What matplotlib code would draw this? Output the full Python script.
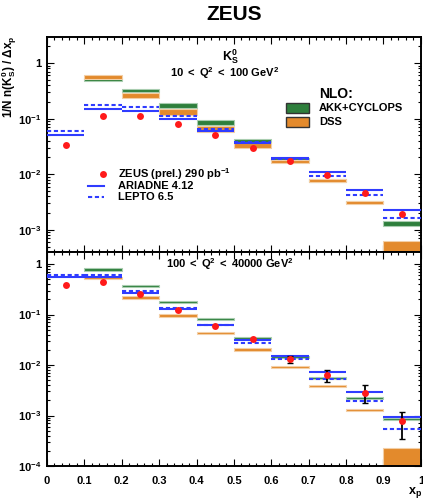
import numpy as np
import matplotlib
matplotlib.use("Agg")
import matplotlib.pyplot as plt
from matplotlib.ticker import LogLocator, FixedLocator, MultipleLocator, FuncFormatter, NullFormatter

plt.rcParams['font.family'] = ['Liberation Sans', 'DejaVu Sans']
plt.rcParams['font.weight'] = 'bold'
plt.rcParams['mathtext.fontset'] = 'custom'
plt.rcParams['mathtext.rm'] = 'Liberation Sans:bold'
plt.rcParams['mathtext.it'] = 'Liberation Sans:bold'
plt.rcParams['mathtext.bf'] = 'Liberation Sans:bold'
plt.rcParams['mathtext.sf'] = 'Liberation Sans:bold'
plt.rcParams['mathtext.default'] = 'rm'

nan = np.nan
bin_lo = np.array([0.0, 0.1, 0.2, 0.3, 0.4, 0.5, 0.6, 0.7, 0.8, 0.9])
bin_hi = bin_lo + 0.1
x_center = bin_lo + 0.05

# ---- top panel: 10 < Q2 < 100 GeV2 ----
data_top = [0.033, 0.11, 0.111, 0.080, 0.050, 0.030, 0.0171, 0.0095, 0.0045, 0.0019]
ariadne_top = [0.051, 0.152, 0.14, 0.098, 0.061, 0.036, 0.0197, 0.0109, 0.0053, 0.00224]
lepto_top = [0.059, 0.175, 0.162, 0.11, 0.066, 0.038, 0.019, 0.0093, 0.0042, 0.00166]
akk_top = [nan, 0.51, 0.32, 0.175, 0.0865, 0.040, 0.0184, 0.0078, 0.0032, 0.00131]
akk_top_err = [nan, 0.06, 0.07, 0.10, 0.11, 0.09, 0.07, 0.06, 0.05, 0.12]
dss_top = [nan, 0.57, 0.265, 0.133, 0.065, 0.033, 0.0171, 0.0076, 0.0031, 0.0005]
dss_top_err = [nan, 0.09, 0.10, 0.14, 0.13, 0.10, 0.07, 0.06, 0.05, 0.25]

# ---- bottom panel: 100 < Q2 < 40000 GeV2 ----
data_bot = [0.384, 0.447, 0.25, 0.121, 0.060, 0.0327, 0.0133, 0.0064, 0.0028, 0.00077]
data_bot_lo = [nan, nan, nan, nan, nan, nan, 0.0108, 0.0047, 0.0018, 0.00034]
data_bot_hi = [nan, nan, nan, nan, nan, nan, 0.0153, 0.0080, 0.0040, 0.00119]
ariadne_bot = [0.545, 0.553, 0.27, 0.129, 0.062, 0.0313, 0.0151, 0.0073, 0.0029, 0.00095]
lepto_bot = [0.615, 0.615, 0.29, 0.134, 0.061, 0.0277, 0.0133, 0.0053, 0.00196, 0.00055]
akk_bot = [nan, 0.78, 0.367, 0.177, 0.0815, 0.0343, 0.0144, 0.0056, 0.0022, 0.00085]
akk_bot_err = [nan, 0.05, 0.05, 0.05, 0.05, 0.06, 0.05, 0.05, 0.05, 0.06]
dss_bot = [nan, 0.53, 0.219, 0.095, 0.0436, 0.0204, 0.0093, 0.00384, 0.00127, 1.4e-4]
dss_bot_err = [nan, 0.05, 0.06, 0.06, 0.06, 0.05, 0.05, 0.05, 0.05, 0.6]

x_ticks = [0, 0.1, 0.2, 0.3, 0.4, 0.5, 0.6, 0.7, 0.8, 0.9, 1]
x_ticklabels = ['0', '0.1', '0.2', '0.3', '0.4', '0.5', '0.6', '0.7', '0.8', '0.9', '1']

GREEN = '#2e7f3c'
GREEN_E = '#a9cdb0'
ORANGE = '#e38a2c'
ORANGE_E = '#f3cfa6'
BLUE = '#2f3cff'
RED = '#ff1a1a'

fig = plt.figure(figsize=(4.23, 5.04), dpi=100)
ax_top = fig.add_axes([0.111, 0.5, 0.884, 0.4266])
ax_bot = fig.add_axes([0.111, 0.0754, 0.884, 0.4246])


def band(ax, vals, errs, color, ecolor):
    v = np.array(vals)
    e = np.array(errs)
    lo = v * (1 - e)
    hi = v * (1 + e)
    ax.bar(bin_lo, hi - lo, width=0.1, bottom=lo, align='edge', color=color,
           edgecolor=ecolor, linewidth=0.8, zorder=2)


def fmt(v, pos):
    if v <= 0:
        return ''
    e = int(round(np.log10(v)))
    if e == 0:
        return '1'
    return r'$10^{%d}$' % e


def style(ax, ymin, ymax):
    ax.set_yscale('log')
    ax.set_xlim(0, 1)
    ax.set_ylim(ymin, ymax)
    ax.xaxis.set_major_locator(FixedLocator(x_ticks))
    ax.xaxis.set_minor_locator(MultipleLocator(0.02))
    ax.yaxis.set_major_locator(LogLocator(base=10, numticks=20))
    ax.yaxis.set_minor_locator(LogLocator(base=10, subs=np.arange(2, 10), numticks=20))
    ax.yaxis.set_major_formatter(FuncFormatter(fmt))
    ax.yaxis.set_minor_formatter(NullFormatter())
    ax.tick_params(which='both', direction='in', top=True, right=True, width=0.8)
    ax.tick_params(which='major', length=5, labelsize=8, pad=4)
    ax.tick_params(which='minor', length=2.5)
    for s in ax.spines.values():
        s.set_linewidth(1.4)


def draw(ax, data, ariadne, lepto, akk, akk_err, dss, dss_err, lo=None, hi=None):
    band(ax, akk, akk_err, GREEN, GREEN_E)
    band(ax, dss, dss_err, ORANGE, ORANGE_E)
    ax.hlines(ariadne, bin_lo, bin_hi, colors=BLUE, linewidth=1.5, zorder=3)
    ax.hlines(lepto, bin_lo, bin_hi, colors=BLUE, linewidth=1.5, linestyles=(0, (2, 1.3)), zorder=3)
    if lo is not None:
        lo = np.array(lo)
        hi = np.array(hi)
        d = np.array(data)
        m = ~np.isnan(lo)
        ax.errorbar(x_center[m], d[m], yerr=[d[m] - lo[m], hi[m] - d[m]], fmt='none',
                    ecolor='black', elinewidth=1.3, capsize=2.2, capthick=1.0, zorder=4)
    ax.plot(x_center, data, 'o', color=RED, markersize=5, markeredgewidth=0, zorder=5)


draw(ax_top, data_top, ariadne_top, lepto_top, akk_top, akk_top_err, dss_top, dss_top_err)
draw(ax_bot, data_bot, ariadne_bot, lepto_bot, akk_bot, akk_bot_err, dss_bot, dss_bot_err,
     data_bot_lo, data_bot_hi)

style(ax_top, 10 ** -3.40, 10 ** 0.47)
style(ax_bot, 1e-4, 10 ** 0.24)
ax_top.set_xticklabels([])
ax_bot.set_xticklabels(x_ticklabels)
ax_bot.tick_params(axis='x', labelsize=8, pad=7)

# texts
fig.text(234 / 423, 1 - 15 / 504, 'ZEUS', ha='center', va='center', fontsize=15, fontweight='bold')
fig.text(230 / 423, 1 - 57 / 504, r'K$^0_S$', ha='center', va='center', fontsize=9)
fig.text(225 / 423, 1 - 73 / 504, r'10 $<$ Q$^2$ $<$ 100 GeV$^2$', ha='center', va='center', fontsize=8)
fig.text(230 / 423, 1 - 264 / 504, r'100 $<$ Q$^2$ $<$ 40000 GeV$^2$', ha='center', va='center', fontsize=8)

fig.text(9 / 423, 1 - 77 / 504, r'1/N n(K$^0_S$) / $\Delta$x$_p$', ha='center', va='center',
         rotation=90, fontsize=8.5)
fig.text(415 / 423, 1 - 492 / 504, r'x$_p$', ha='center', va='center', fontsize=9)

# NLO legend
fig.text(319 / 423, 1 - 94 / 504, 'NLO:', ha='left', va='center', fontsize=10)
fig.patches.append(matplotlib.patches.Rectangle((286 / 423, 1 - 113 / 504), 23 / 423, 10 / 504,
                   transform=fig.transFigure, facecolor=GREEN, edgecolor='#333333', linewidth=1))
fig.patches.append(matplotlib.patches.Rectangle((286 / 423, 1 - 127 / 504), 23 / 423, 10 / 504,
                   transform=fig.transFigure, facecolor=ORANGE, edgecolor='#333333', linewidth=1))
fig.text(319 / 423, 1 - 108 / 504, 'AKK+CYCLOPS', ha='left', va='center', fontsize=8)
fig.text(319 / 423, 1 - 122 / 504, 'DSS', ha='left', va='center', fontsize=8)

# data / MC legend
fig.lines.append(matplotlib.lines.Line2D([103 / 423], [1 - 174 / 504], transform=fig.transFigure,
                 marker='o', color=RED, markersize=5, markeredgewidth=0, linestyle='none'))
fig.lines.append(matplotlib.lines.Line2D([88 / 423, 104 / 423], [1 - 186 / 504] * 2, transform=fig.transFigure,
                 color=BLUE, linewidth=1.5))
fig.lines.append(matplotlib.lines.Line2D([88 / 423, 104 / 423], [1 - 197 / 504] * 2, transform=fig.transFigure,
                 color=BLUE, linewidth=1.5, linestyle=(0, (2, 1.3))))
fig.text(118 / 423, 1 - 174 / 504, r'ZEUS (prel.) 290 pb$^{-1}$', ha='left', va='center', fontsize=8)
fig.text(118 / 423, 1 - 186 / 504, 'ARIADNE 4.12', ha='left', va='center', fontsize=8)
fig.text(118 / 423, 1 - 197 / 504, 'LEPTO 6.5', ha='left', va='center', fontsize=8)

fig.savefig('out.png', dpi=100)
